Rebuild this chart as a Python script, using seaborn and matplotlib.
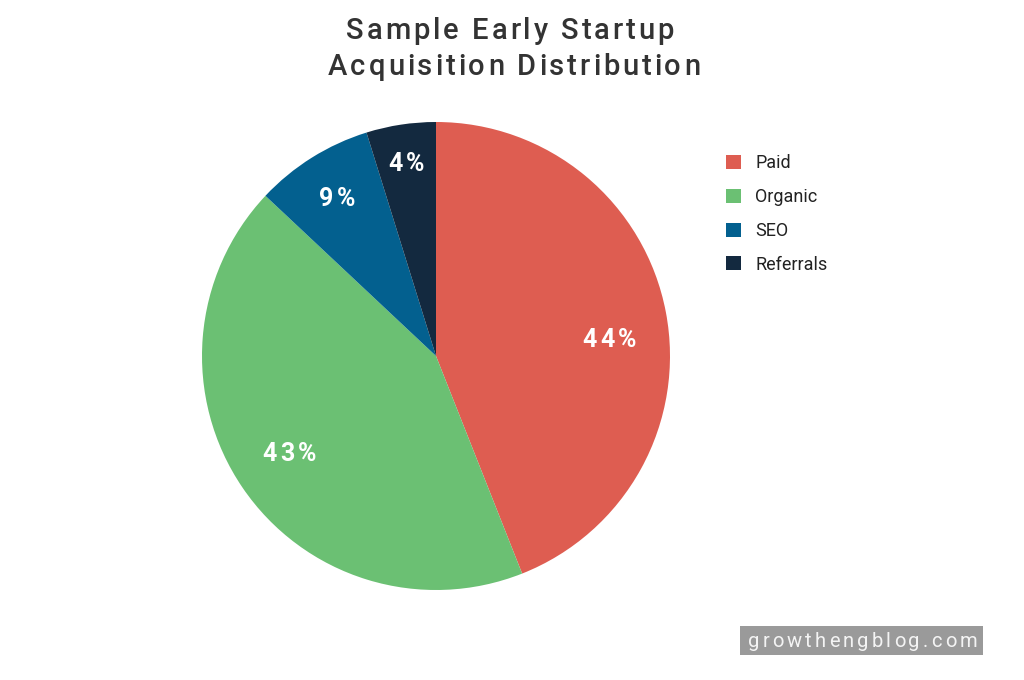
import numpy as np
import matplotlib
matplotlib.use("Agg")
import matplotlib.pyplot as plt
import seaborn as sns
from matplotlib.font_manager import FontProperties, findfont, get_font

# data (slice sizes from the geometry, labels as printed)
channels = ["Paid", "Organic", "SEO", "Referrals"]
shares = [44.0, 43.0, 8.2, 4.8]
share_labels = ["44%", "43%", "9%", "4%"]
slice_colors = ["#de5d51", "#6bc073", "#03608f", "#13293f"]
title_lines = ["Sample Early Startup", "Acquisition Distribution"]
watermark = "growthengblog.com"

# label placement (fraction of radius, angle nudge in degrees)
label_dist = [0.745, 0.748, 0.80, 0.84]
label_nudge = [-5.0, -1.0, 0.0, 0.0]

W, H = 1024, 680
FAMILY = ["Roboto", "DejaVu Sans"]


def _advances(s, size, weight):
    prop = FontProperties(family="Roboto", size=size, weight=weight)
    font = get_font(findfont(prop))
    font.set_size(size, 100)
    return [font.load_char(ord(c)).linearHoriAdvance / 65536 for c in s]


def tracked_text(fig, x, y, s, size, weight, color, track=0.0, width=None,
                 anchor="center"):
    """Draw s letter by letter (pixel coords, y from bottom) with extra tracking."""
    adv = _advances(s, size, weight)
    if width is not None:
        track = (width - sum(adv)) / (len(s) - 1)
    total = sum(adv) + track * (len(s) - 1)
    pos = x - total / 2 if anchor == "center" else x
    for c, a in zip(s, adv):
        if c != " ":
            fig.text(pos / W, y / H, c, ha="left", va="baseline", fontsize=size,
                     fontweight=weight, color=color, family=FAMILY)
        pos += a + track


sns.set_theme(style="white")
plt.rcParams["font.family"] = FAMILY

fig = plt.figure(figsize=(W / 100, H / 100), dpi=100)
fig.patch.set_facecolor("white")

# pie axes: centre ~(436, 356) px, radius ~234 px
ax = fig.add_axes([202 / W, 90 / H, 468 / W, 468 / H])
wedges, _ = ax.pie(shares, colors=slice_colors, startangle=90,
                   counterclock=False, radius=1.0,
                   wedgeprops={"linewidth": 0})
ax.set_xlim(-1, 1); ax.set_ylim(-1, 1)
ax.set_aspect("equal")
ax.axis("off")

for w, txt, d, nudge in zip(wedges, share_labels, label_dist, label_nudge):
    mid = np.deg2rad((w.theta1 + w.theta2) / 2 + nudge)
    px, py = ax.transData.transform((d * np.cos(mid), d * np.sin(mid)))
    tracked_text(fig, px, py - 9, txt, 18, "bold", "white", track=3.5)

# title, two lines, letter-spaced
tracked_text(fig, 510, H - 39, title_lines[0], 21, "medium", "#333333", width=328)
tracked_text(fig, 514, H - 75, title_lines[1], 21, "medium", "#333333", width=372)

leg = fig.legend(wedges, channels, loc="upper left",
                 bbox_to_anchor=(726 / W, 1 - 154.5 / H),
                 frameon=False, fontsize=13, borderpad=0, borderaxespad=0,
                 handlelength=0.83, handleheight=0.83,
                 handletextpad=0.8, labelspacing=0.87)
for t in leg.get_texts():
    t.set_color("#222222")

# watermark
box = plt.Rectangle((740 / W, 1 - 655 / H), 243 / W, 29 / H,
                    transform=fig.transFigure, facecolor="#9a9a9a",
                    edgecolor="none")
fig.patches.append(box)
tracked_text(fig, 748, H - 647, watermark, 14.5, "normal", "#f4f4f4",
             width=229, anchor="left")

fig.savefig("out.png", dpi=100)
